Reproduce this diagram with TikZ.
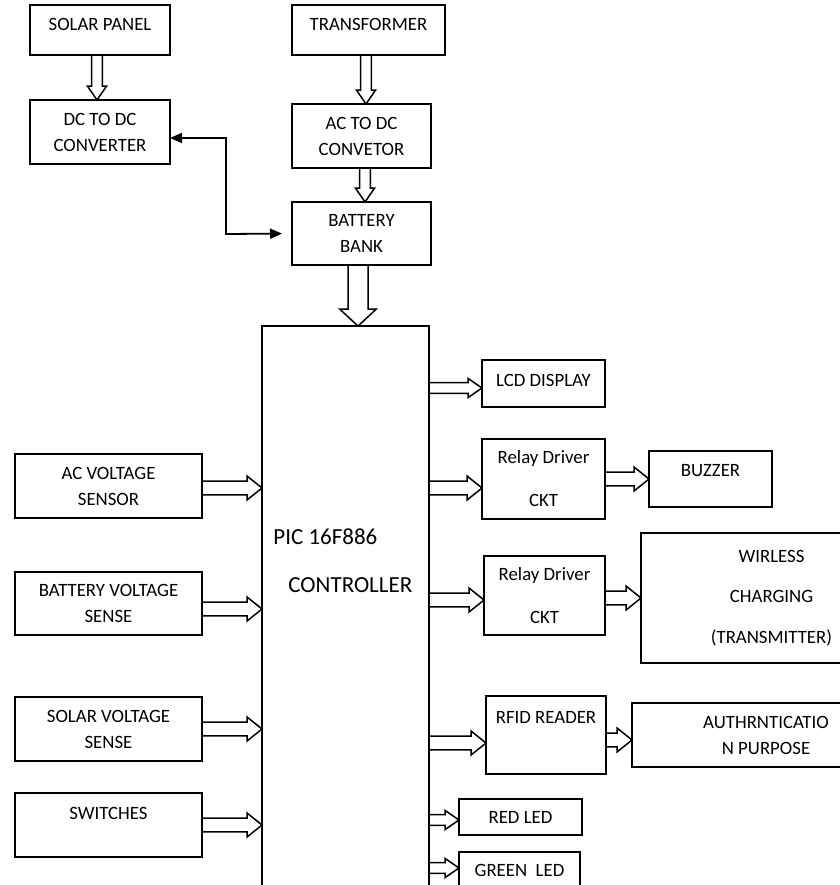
\documentclass[tikz,border=0pt]{standalone}
\usepackage{fontspec}
\setmainfont{Carlito}
\usetikzlibrary{arrows.meta,calc}

\tikzset{
  blk/.style={draw, line width=0.9pt, anchor=north west, inner sep=0pt, outer sep=0pt,
    align=center, font=\fontsize{9.4}{13}\selectfont},
  sz/.style 2 args={minimum width=#1, minimum height=#2},
  fatarrow/.style n args={3}{to path={
    let \p1=(\tikztostart), \p2=(\tikztotarget),
        \n1={atan2(\y2-\y1,\x2-\x1)}, \n2={veclen(\x2-\x1,\y2-\y1)} in
    ([shift={(\p1)},rotate=\n1]0pt,#1) -- ([shift={(\p1)},rotate=\n1]\n2-#3,#1)
    -- ([shift={(\p1)},rotate=\n1]\n2-#3,#2) -- ([shift={(\p1)},rotate=\n1]\n2,0pt)
    -- ([shift={(\p1)},rotate=\n1]\n2-#3,-#2) -- ([shift={(\p1)},rotate=\n1]\n2-#3,-#1)
    -- ([shift={(\p1)},rotate=\n1]0pt,-#1) -- cycle}},
  fat/.style={fatarrow={3.4pt}{6pt}{7.5pt}},
  slim/.style={fatarrow={2.7pt}{4.8pt}{7pt}},
  broad/.style={fatarrow={5pt}{9.2pt}{8.5pt}},
}

\begin{document}
\begin{tikzpicture}[x=0.5pt, y=-0.5pt]
  \useasboundingbox (0,0) rectangle (840,885);
  \clip (0,0) rectangle (840,885);

  % supply side
  \node[blk, sz={70pt}{25pt}, text depth=6pt] (solar) at (30,5) {SOLAR PANEL};
  \node[blk, sz={76.5pt}{25pt}, text depth=6pt] (trans) at (292,5) {TRANSFORMER};
  \node[blk, sz={70pt}{32pt}] (dcdc) at (30,100) {DC TO DC\\CONVERTER};
  \node[blk, sz={69.5pt}{32pt}] (acdc) at (292,104) {AC TO DC\\CONVETOR};
  \node[blk, sz={69.5pt}{31.5pt}] (bb) at (292,202) {BATTERY\\BANK};

  % controller
  \node[blk, sz={83.5pt}{282pt}, label={[anchor=west, align=left, inner sep=0pt,
      xshift=5.5pt, yshift=23.5pt, font=\fontsize{11.5}{24}\selectfont]west:PIC 16F886\\\hspace*{7.5pt}CONTROLLER}]
    (ctl) at (262,326) {};

  % inputs
  \node[blk, sz={93.5pt}{32pt}] (acv) at (15,454) {AC VOLTAGE\\SENSOR};
  \node[blk, sz={93.5pt}{31.5pt}] (batv) at (15,572) {BATTERY VOLTAGE\\SENSE};
  \node[blk, sz={93.5pt}{32pt}] (solv) at (15,697) {SOLAR VOLTAGE\\SENSE};
  \node[blk, sz={93.5pt}{32pt}, text depth=12pt] (sw) at (15,793) {SWITCHES};

  % outputs
  \node[blk, sz={61.5pt}{23.5pt}, text depth=3.5pt] (lcd) at (482,360) {LCD DISPLAY};
  \node[blk, sz={61.5pt}{40pt}] (rel1) at (482,439) {Relay Driver\\[8.5pt]CKT};
  \node[blk, sz={61.5pt}{28pt}, text depth=9pt] (buzz) at (649,451) {BUZZER};
  \node[blk, sz={60.5pt}{39.5pt}] (rel2) at (484,556) {Relay Driver\\[8.5pt]CKT};
  \node[blk, sz={130.5pt}{65pt}] (wir) at (641,533) {WIRLESS\\[7.25pt]CHARGING\\[7.25pt](TRANSMITTER)};
  \node[blk, sz={60pt}{39pt}, text depth=18pt] (rfid) at (486,696) {RFID READER};
  \node[blk, sz={134pt}{32pt}] (auth) at (632,703) {AUTHRNTICATIO\\N PURPOSE};
  \node[blk, sz={61.5pt}{18pt}] (red) at (459,799) {RED LED};
  \node[blk, sz={60.5pt}{18pt}] (green) at (459,852) {GREEN~ LED};

  \begin{scope}[line width=0.75pt]
    \draw ([xshift=-1.5pt]solar.south) to[slim] ([xshift=-1.5pt]solar.south |- dcdc.north);
    \draw ([xshift=-1.25pt]trans.south) to[slim] ([xshift=-1.25pt]trans.south |- acdc.north);
    \draw ([xshift=1.75pt]acdc.south) to[slim] ([xshift=1.75pt]acdc.south |- bb.north);
    \draw ([xshift=-1.75pt]bb.south) to[broad] ([xshift=-1.75pt]bb.south |- ctl.north);

    \draw ([yshift=-1pt]acv.east) to[fat] ([yshift=-1pt]acv.east -| ctl.west);
    \draw ([yshift=-2.75pt]batv.east) to[fat] ([yshift=-2.75pt]batv.east -| ctl.west);
    \draw (solv.east) to[fat] (solv.east -| ctl.west);
    \draw (sw.east) to[fat] (sw.east -| ctl.west);

    \draw ([yshift=-2.25pt]lcd.west -| ctl.east) to[slim] ([yshift=-2.25pt]lcd.west);
    \draw ([yshift=-4.5pt]rel1.west -| ctl.east) to[fat] ([yshift=-4.5pt]rel1.west);
    \draw (rel1.east) to[fat] (rel1.east -| buzz.west);
    \draw ([yshift=-2.25pt]rel2.west -| ctl.east) to[fat] ([yshift=-2.25pt]rel2.west);
    \draw (wir.west -| rel2.east) to[fat] (wir.west);
    \draw ([yshift=-4pt]rfid.west -| ctl.east) to[fat] ([yshift=-4pt]rfid.west);
    \draw ([yshift=-2.5pt]rfid.east) to[fat] ([yshift=-2.5pt]rfid.east -| auth.west);
    \draw ([yshift=-1.5pt]red.west -| ctl.east) to[slim] ([yshift=-1.5pt]red.west);
    \draw ([yshift=1pt]green.west -| ctl.east) to[slim] ([yshift=1pt]green.west);
  \end{scope}

  \coordinate (bend) at (226,234);
  \draw[line width=0.9pt, {Triangle[length=6pt,width=5pt]}-{Triangle[length=6pt,width=5pt]}, shorten >=5pt]
    ([yshift=-3pt]dcdc.east) -| (bend) -- (bb.west);
\end{tikzpicture}
\end{document}
